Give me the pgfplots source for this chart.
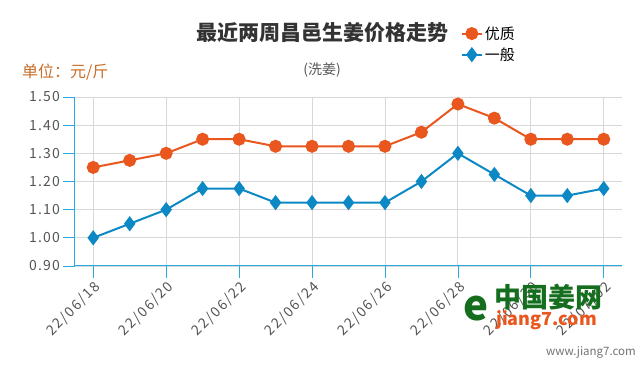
\documentclass[border=0pt]{standalone}
\usepackage{pgfplots}
\pgfplotsset{compat=1.18}
\usepackage{fontspec}
\setmainfont{Noto Sans CJK SC}
\definecolor{cOrange}{RGB}{234,87,30}
\definecolor{cBlue}{RGB}{12,137,197}
\definecolor{cAxis}{RGB}{40,170,225}
\definecolor{cGrid}{RGB}{216,216,216}
\definecolor{cTick}{RGB}{85,85,85}
\definecolor{cUnit}{RGB}{200,110,40}
\definecolor{cGreen}{RGB}{20,110,30}
\begin{document}
\begin{tikzpicture}
\path[fill=white] (0pt,0pt) rectangle (643pt,371pt);
\begin{axis}[
  at={(75pt,105pt)}, anchor=south west,
  scale only axis, width=547pt, height=169pt,
  xmin=-0.5, xmax=14.5, ymin=0.9, ymax=1.5,
  axis x line=bottom, axis y line=left,
  axis line style={-, draw=cAxis, line width=1pt},
  xtick={0,2,4,6,8,10,12,14},
  xticklabels={22/06/18,22/06/20,22/06/22,22/06/24,22/06/26,22/06/28,22/06/30,22/07/02},
  ytick={0.9,1.0,1.1,1.2,1.3,1.4,1.5},
  /pgf/number format/fixed, /pgf/number format/fixed zerofill,
  /pgf/number format/precision=2, /pgf/number format/assume math mode=true,
  yticklabel style={font=\fontsize{14}{15}\selectfont\addfontfeature{LetterSpace=8}, text=cTick, inner sep=3pt},
  xticklabel style={font=\fontsize{14}{15}\selectfont\addfontfeature{LetterSpace=12}, text=cTick, rotate=45, anchor=north east, inner sep=1pt},
  tick align=outside,
  major tick length=12pt,
  tick style={draw=cAxis, line width=0.8pt},
  grid=major,
  major grid style={draw=cGrid, line width=0.9pt},
  clip=false,
  legend style={at={(0.705,1.43)}, anchor=north west, draw=none, fill=none,
    font=\fontsize{15}{16}\selectfont, row sep=3pt, inner sep=0pt,
    legend cell align=left},
  legend image code/.code={
    \draw[#1, mark repeat=2, mark phase=2] plot coordinates {(0pt,0pt) (10pt,0pt) (20pt,0pt)};
  },
]
\addplot[cOrange, line width=2pt, mark=*, mark size=5.5pt, mark options={fill=cOrange, draw=cOrange}]
coordinates {(0,1.25)(1,1.275)(2,1.30)(3,1.35)(4,1.35)(5,1.325)(6,1.325)(7,1.325)(8,1.325)(9,1.375)(10,1.475)(11,1.425)(12,1.35)(13,1.35)(14,1.35)};
\addlegendentry{优质}
\addplot[cBlue, line width=2pt, mark=diamond*, mark size=6pt, mark options={fill=cBlue, draw=cBlue}]
coordinates {(0,1.00)(1,1.05)(2,1.10)(3,1.175)(4,1.175)(5,1.125)(6,1.125)(7,1.125)(8,1.125)(9,1.20)(10,1.30)(11,1.225)(12,1.15)(13,1.15)(14,1.175)};
\addlegendentry{一般}
\end{axis}
\node[font=\bfseries\fontsize{21}{23}\selectfont, text=black!80] at (322pt,339pt) {最近两周昌邑生姜价格走势};
\node[font=\fontsize{14}{15}\selectfont, text=black!65] at (322pt,301pt) {(洗姜)};
\node[font=\fontsize{16}{17}\selectfont, text=cUnit, anchor=west, inner sep=0pt] at (22pt,299pt) {单位：元/斤};
\node[font=\bfseries\fontsize{27}{29}\selectfont, text=cGreen, anchor=west, inner sep=0pt] at (494pt,74pt) {中国姜网};
\node[font=\bfseries\itshape\fontsize{18}{19}\selectfont, text=cOrange, anchor=west, inner sep=0pt] at (496pt,51pt) {jiang7.com};
\node[font=\bfseries\itshape\fontsize{42}{44}\selectfont, text=cGreen, inner sep=0pt] at (476pt,62pt) {e};
\node[font=\fontsize{11.5}{12}\selectfont, text=black!55, anchor=east, inner sep=0pt] at (636pt,19pt) {www.jiang7.com};
\end{tikzpicture}
\end{document}
